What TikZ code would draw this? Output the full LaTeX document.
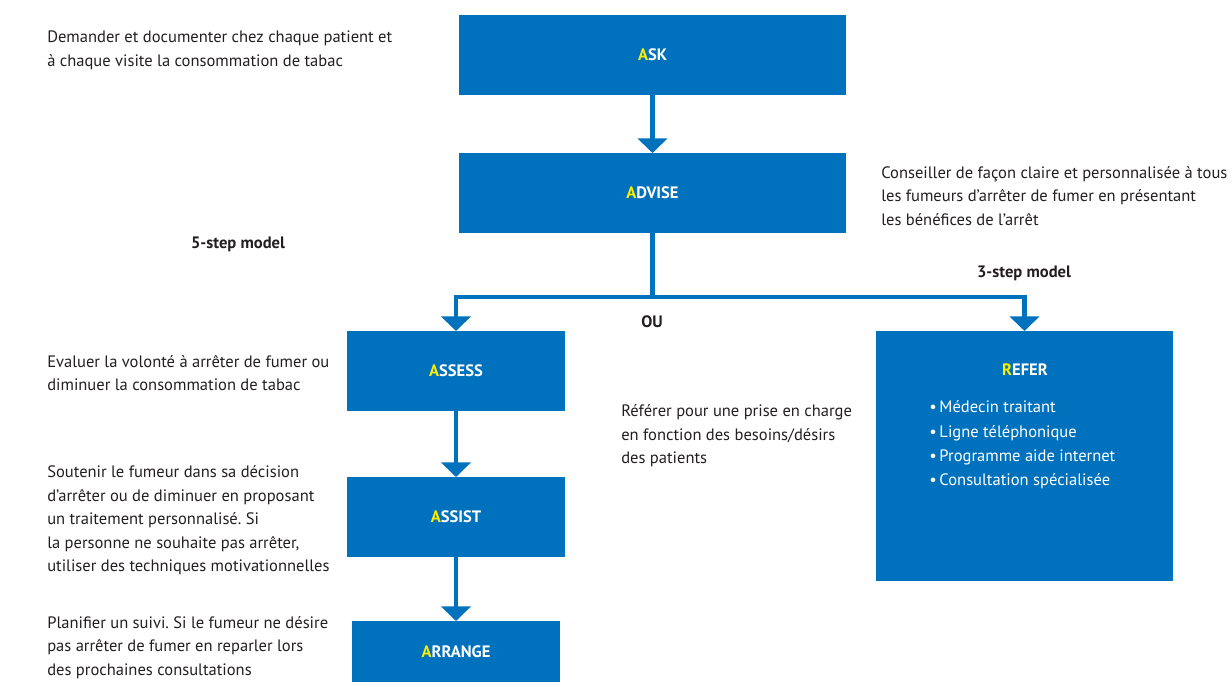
\documentclass[tikz,border=0pt]{standalone}
\usepackage{fontspec}
\setmainfont{PT Sans}
\usetikzlibrary{arrows.meta}
\frenchspacing
\definecolor{boxblue}{RGB}{0,113,188}
\definecolor{hiyellow}{RGB}{255,237,0}
\definecolor{txt}{RGB}{35,31,32}
\newcommand\bodyfont{\fontsize{12.4}{17.6}\selectfont}
\newcommand\listfont{\fontsize{12.4}{18.3}\selectfont}
\newcommand\hA{\textcolor{hiyellow}{A}}
\tikzset{
 stepbox/.style={fill=boxblue, draw=none, inner sep=0pt, outer sep=0pt, text=white, font=\bodyfont\bfseries, align=center},
 desc/.style={inner sep=0pt, anchor=west, align=left, text=txt, font=\bodyfont},
 lbl/.style={inner sep=0pt, font=\bodyfont\bfseries, text=txt},
 conn/.style={draw=boxblue, line width=3.6pt},
 arr/.style={conn, -{Triangle[width=22pt,length=11pt]}},
}
\begin{document}
\begin{tikzpicture}[x=0.75pt,y=-0.75pt]
\useasboundingbox (0,0) rectangle (1231,682);
% boxes
\node[stepbox, minimum width=290.25pt, minimum height=60pt] (ask) at (652.5,55) {\hA SK};
\node[stepbox, minimum width=290.25pt, minimum height=60pt] (advise) at (652.5,193) {\hA DVISE};
\node[stepbox, minimum width=163.5pt, minimum height=60pt] (assess) at (456,371) {\hA SSESS};
\node[stepbox, minimum width=163.5pt, minimum height=60pt] (assist) at (456,517) {\hA SSIST};
\node[stepbox, minimum width=156pt, minimum height=45.75pt] (arrange) at (456,651.5) {\hA RRANGE};
\node[stepbox, minimum width=222.75pt, minimum height=187.5pt] (refer) at (1024.5,456) {};
\node[lbl, text=white] (refertitle) at (1025,370) {\textcolor{hiyellow}{R}EFER};
\node[desc, text=white, font=\listfont] (referlist) at (929,445) {•\,Médecin traitant\\•\,Ligne téléphonique\\•\,Programme aide internet\\•\,Consultation spécialisée};
% connectors
\coordinate (split) at (652.5,297);
\draw[arr] (ask) -- (advise);
\draw[conn] (advise) -- (split);
\draw[arr] (split) -| (assess);
\draw[arr] (split) -| (refer);
\draw[arr] (assess) -- (assist);
\draw[arr] (assist) -- (arrange);
% labels
\node[lbl] (m5) at (238,244) {5-step model};
\node[lbl] (m3) at (1024,273) {3-step model};
\node[lbl] (ou) at (652,322) {OU};
% descriptions
\node[desc] (d1) at (47,50.5) {Demander et documenter chez chaque patient et\\à chaque visite la consommation de tabac};
\node[desc] (d2) at (881,196) {Conseiller de façon claire et personnalisée à tous\\les fumeurs d’arrêter de fumer en présentant\\les bénéfices de l’arrêt};
\node[desc] (d3) at (47,373) {Evaluer la volonté à arrêter de fumer ou\\diminuer la consommation de tabac};
\node[desc] (d4) at (47,520.5) {Soutenir le fumeur dans sa décision\\d’arrêter ou de diminuer en proposant\\un traitement personnalisé. Si\\la personne ne souhaite pas arrêter,\\utiliser des techniques motivationnelles};
\node[desc] (d5) at (47,647.5) {Planifier un suivi. Si le fumeur ne désire\\pas arrêter de fumer en reparler lors\\des prochaines consultations};
\node[desc] (d6) at (621,436) {Référer pour une prise en charge\\en fonction des besoins/désirs\\des patients};
\end{tikzpicture}
\end{document}
